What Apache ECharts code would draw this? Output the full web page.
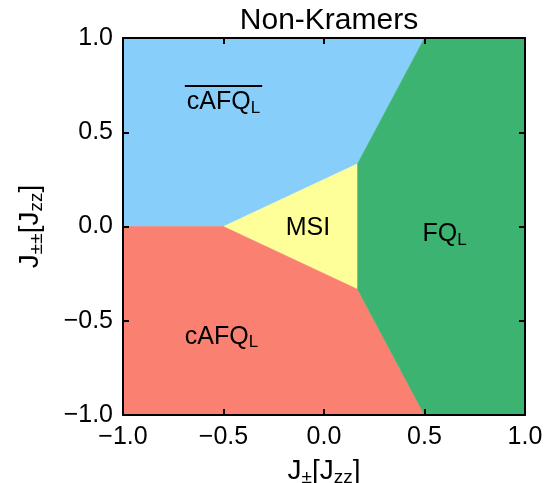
<!DOCTYPE html>
<html>
<head>
<meta charset="utf-8">
<script src="https://cdn.jsdelivr.net/npm/echarts@6/dist/echarts.min.js"></script>
<style>
  html, body { margin: 0; padding: 0; background: #fff; }
  #chart { width: 548px; height: 483px; }
</style>
</head>
<body>
<div id="chart"></div>
<script>
// Phase boundaries of the non-Kramers model, vertices in (J±, J±±) units of Jzz
const regionNames = ['cAFQ_bar', 'MSI', 'cAFQ', 'FQ'];
const regionColors = ['#87CEFA', '#FFFF99', '#FA8072', '#3CB371'];
const cafqBarRegion = [[-1, 0], [-0.5, 0], [0.167, 0.333], [0.5, 1], [-1, 1]];
const msiRegion = [[-0.5, 0], [0.167, 0.333], [0.167, -0.333]];
const cafqRegion = [[-1, 0], [-0.5, 0], [0.167, -0.333], [0.5, -1], [-1, -1]];
const fqRegion = [[0.5, 1], [1, 1], [1, -1], [0.5, -1], [0.167, -0.333], [0.167, 0.333]];
const regions = [cafqBarRegion, msiRegion, cafqRegion, fqRegion];

// Phase labels: main text, subscript, overline flag, anchor in data units
const labelMain = ['cAFQ', 'MSI', 'FQ', 'cAFQ'];
const labelSub = ['L', '', 'L', 'L'];
const labelOverline = [true, false, false, false];
const labelX = [-0.50, -0.08, 0.60, -0.51];
const labelY = [0.66, -0.01, -0.04, -0.585];

const tickValues = [-1.0, -0.5, 0.0, 0.5, 1.0];

const FONT = '"Liberation Sans", Arial, Helvetica, sans-serif';
const fmt = v => (v < 0 ? '\u2212' : '') + Math.abs(v).toFixed(1);

const measureCtx = document.createElement('canvas').getContext('2d');
function textWidth(s, size) {
  measureCtx.font = size + 'px ' + FONT;
  return measureCtx.measureText(s).width;
}

const chart = echarts.init(document.getElementById('chart'), null, { renderer: 'canvas' });

const axisCommon = {
  min: tickValues[0],
  max: tickValues[tickValues.length - 1],
  interval: 0.5,
  z: 10,
  axisLine: { onZero: false, lineStyle: { color: '#000', width: 2 } },
  axisTick: { inside: true, length: 6, lineStyle: { color: '#000', width: 2 } },
  splitLine: { show: false }
};

const nameRich = {
  a: { fontSize: 28, fontFamily: FONT, color: '#000', lineHeight: 34 },
  s: { fontSize: 19, fontFamily: FONT, color: '#000', lineHeight: 34, padding: [13, 0, 0, 0] }
};
const tickLabel = { formatter: fmt, fontSize: 25, fontFamily: FONT, color: '#000', margin: 10 };

const option = {
  animation: false,
  backgroundColor: '#fff',
  title: {
    text: 'Non-Kramers',
    left: 324,
    textAlign: 'center',
    top: 1,
    textStyle: { fontSize: 30, fontWeight: 'normal', fontFamily: FONT, color: '#000' }
  },
  grid: { left: 123, right: 23, top: 38, bottom: 68, outerBoundsMode: 'none', containLabel: false },
  xAxis: [
    Object.assign({}, axisCommon, {
      type: 'value', position: 'bottom',
      axisLabel: tickLabel,
      name: '{a|J}{s|\u00b1}{a|[J}{s|zz}{a|]}',
      nameLocation: 'middle',
      nameGap: 32,
      nameTextStyle: { rich: nameRich }
    }),
    Object.assign({}, axisCommon, {
      type: 'value', position: 'top',
      axisLabel: { show: false }
    })
  ],
  yAxis: [
    Object.assign({}, axisCommon, {
      type: 'value', position: 'left',
      axisLabel: tickLabel,
      name: '{a|J}{s|\u00b1\u00b1}{a|[J}{s|zz}{a|]}',
      nameLocation: 'middle',
      nameGap: 76,
      nameTextStyle: { rich: nameRich }
    }),
    Object.assign({}, axisCommon, {
      type: 'value', position: 'right',
      axisLabel: { show: false }
    })
  ],
  series: [
    {
      type: 'custom',
      name: 'phases',
      coordinateSystem: 'cartesian2d',
      data: regions.map((r, i) => ({ value: [i], name: regionNames[i] })),
      renderItem: function (params, api) {
        const i = api.value(0);
        const pts = regions[i].map(p => api.coord(p));
        return {
          type: 'polygon',
          shape: { points: pts },
          style: { fill: regionColors[i], stroke: regionColors[i], lineWidth: 0.5 }
        };
      },
      z: 1
    },
    {
      type: 'custom',
      name: 'labels',
      coordinateSystem: 'cartesian2d',
      data: labelMain.map((t, i) => [labelX[i], labelY[i]]),
      renderItem: function (params, api) {
        const i = params.dataIndex;
        const c = api.coord([api.value(0), api.value(1)]);
        const main = labelMain[i];
        const sub = labelSub[i];
        const text = sub ? '{m|' + main + '}{s|' + sub + '}' : '{m|' + main + '}';
        const children = [{
          type: 'text',
          x: c[0], y: c[1],
          style: {
            text: text,
            align: 'center',
            verticalAlign: 'middle',
            rich: {
              m: { fontSize: 25, fontFamily: FONT, fill: '#000', lineHeight: 30 },
              s: { fontSize: 17, fontFamily: FONT, fill: '#000', lineHeight: 30, padding: [12, 0, 0, 0] }
            }
          }
        }];
        if (labelOverline[i]) {
          const w = textWidth(main, 25) + textWidth(sub, 17) + 4;
          children.push({
            type: 'line',
            shape: { x1: c[0] - w / 2, y1: c[1] - 16, x2: c[0] + w / 2, y2: c[1] - 16 },
            style: { stroke: '#000', lineWidth: 2 }
          });
        }
        return { type: 'group', children: children };
      },
      z: 3
    }
  ]
};

chart.setOption(option);
</script>
</body>
</html>
